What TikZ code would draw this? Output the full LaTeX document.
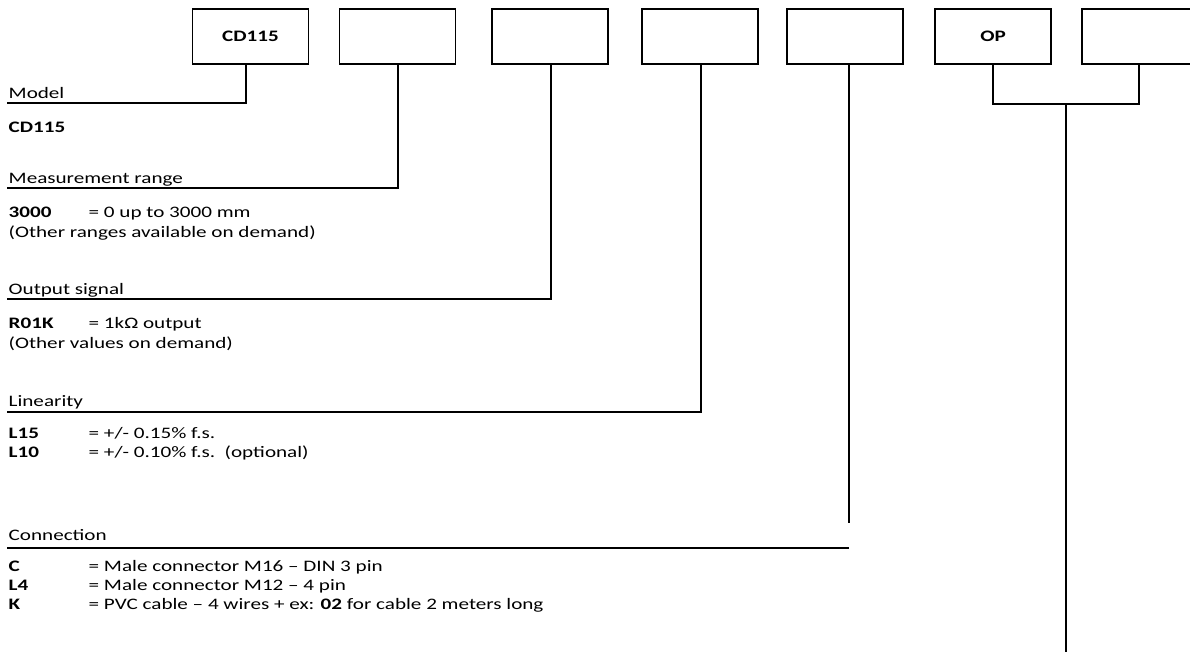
\documentclass[tikz,border=0pt]{standalone}
\usepackage{fontspec}
\setmainfont{Carlito}[FakeStretch=1.32]
\begin{document}
\begin{tikzpicture}[x=1pt, y=-1pt, line width=1.4pt,
    codebox/.style={draw, line width=1.3pt, minimum width=116pt, minimum height=55pt, inner sep=0pt, font=\fontsize{16}{19}\selectfont\bfseries},
    txt/.style={anchor=base west, inner sep=0pt, font=\fontsize{16}{19}\selectfont}]
    \useasboundingbox (0,0) rectangle (1190,657);
    \clip (0,0) rectangle (1190,657);
    % Define the nodes
    \node[codebox] (box1) at (250.5, 36.5) {CD115};
    \node[codebox] (box2) at (397.5, 36.5) {};
    \node[codebox] (box3) at (550, 36.5) {};
    \node[codebox] (box4) at (700, 36.5) {};
    \node[codebox] (box5) at (845, 36.5) {};
    \node[codebox] (box6) at (993, 36.5) {OP};
    \node[codebox] (box7) at (1140, 36.5) {};

    \node[txt] (model) at (8, 98) {Model};
    \node[txt] (model1) at (8, 132) {\textbf{CD115}};

    \node[txt] (range) at (8, 183) {Measurement range};
    \node[txt] (range1) at (8, 217) {\textbf{3000}};
    \node[txt] (range1t) at (88, 217) {= 0 up to 3000 mm};
    \node[txt] (range2) at (8, 237) {(Other ranges available on demand)};

    \node[txt] (signal) at (8, 294) {Output signal};
    \node[txt] (signal1) at (8, 328) {\textbf{R01K}};
    \node[txt] (signal1t) at (88, 328) {= 1kΩ output};
    \node[txt] (signal2) at (8, 348) {(Other values on demand)};

    \node[txt] (lin) at (8, 406) {Linearity};
    \node[txt] (lin1) at (8, 438) {\textbf{L15}};
    \node[txt] (lin1t) at (88, 438) {= +/- 0.15\% f.s.};
    \node[txt] (lin2) at (8, 457) {\textbf{L10}};
    \node[txt] (lin2t) at (88, 457) {= +/- 0.10\% f.s.\ \ (optional)};

    \node[txt] (conn) at (8, 540) {Connection};
    \node[txt] (conn1) at (8, 571) {\textbf{C}};
    \node[txt] (conn1t) at (88, 571) {= Male connector M16 – DIN 3 pin};
    \node[txt] (conn2) at (8, 590) {\textbf{L4}};
    \node[txt] (conn2t) at (88, 590) {= Male connector M12 – 4 pin};
    \node[txt] (conn3) at (8, 609) {\textbf{K}};
    \node[txt] (conn3t) at (88, 609) {= PVC cable – 4 wires + ex: \textbf{02} for cable 2 meters long};

    \coordinate (modelL) at (7, 103);
    \coordinate (modelR) at (246, 103);
    \coordinate (rangeL) at (7, 188);
    \coordinate (rangeR) at (398, 188);
    \coordinate (signalL) at (7, 299);
    \coordinate (signalR) at (551, 299);
    \coordinate (linL) at (7, 412);
    \coordinate (linR) at (701, 412);
    \coordinate (connEnd) at (849, 523);
    \coordinate (connL) at (7, 548);
    \coordinate (connR) at (849, 548);
    \coordinate (opL) at (993, 104);
    \coordinate (opR) at (1139, 104);
    \coordinate (opM) at (1066, 104);
    \coordinate (opEnd) at (1066, 652);

    % Draw the edges
    \draw (box1.south -| modelR) -- (modelR) -- (modelL);
    \draw (box2.south -| rangeR) -- (rangeR) -- (rangeL);
    \draw (box3.south -| signalR) -- (signalR) -- (signalL);
    \draw (box4.south -| linR) -- (linR) -- (linL);
    \draw (box5.south -| connEnd) -- (connEnd);
    \draw (connR) -- (connL);
    \draw (box6.south -| opL) -- (opL) -- (opR) -- (box7.south -| opR);
    \draw (opM) -- (opEnd);
\end{tikzpicture}
\end{document}
